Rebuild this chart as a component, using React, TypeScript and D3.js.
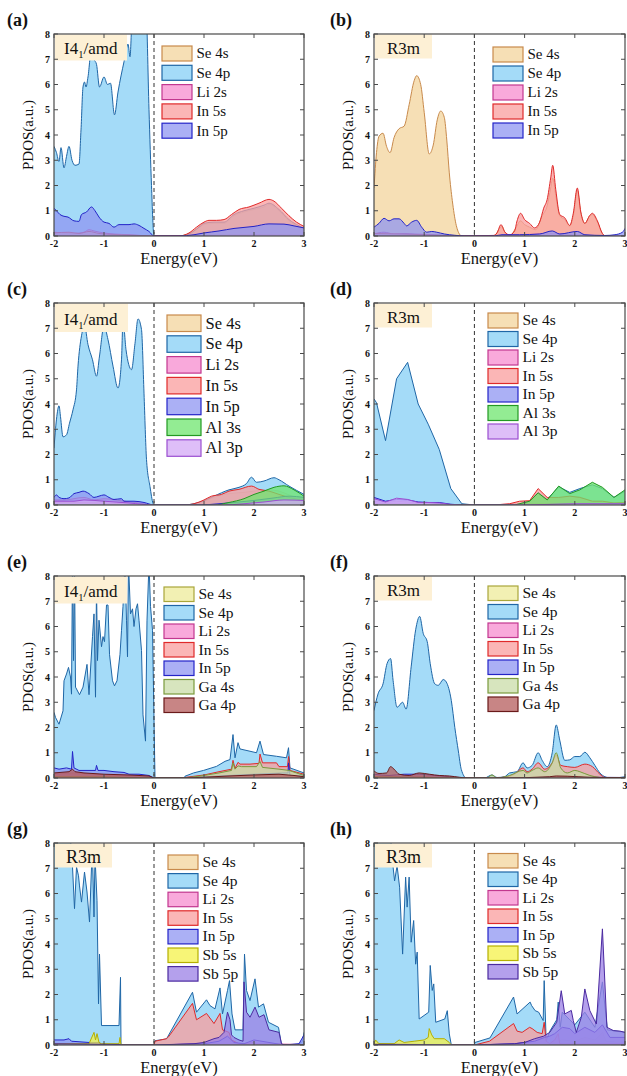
import React from 'react';
import * as d3 from 'd3';

type Pt = [number, number];

const ENERGY_TICKS = [-2, -1, 0, 1, 2, 3];
const PDOS_TICKS = [0, 1, 2, 3, 4, 5, 6, 7, 8];

// ---------- (a) I41/amd ----------
const aSe4s: Pt[] = [[-2, 0.05], [-1.5, 0.05], [-1, 0.04], [-0.5, 0.03], [0, 0], [0.5, 0], [0.8, 0.2], [1.0, 0.45], [1.2, 0.5], [1.4, 0.5], [1.6, 0.8], [1.8, 0.95], [2.0, 1.05], [2.2, 1.15], [2.3, 1.25], [2.5, 1.0], [2.7, 0.6], [2.9, 0.35], [3, 0.25]];
const aSe4p: Pt[] = [[-2, 3.55], [-1.95, 3.3], [-1.9, 2.95], [-1.86, 3.5], [-1.8, 2.7], [-1.75, 3.15], [-1.7, 3.55], [-1.64, 3.0], [-1.58, 2.8], [-1.5, 2.85], [-1.46, 4.2], [-1.42, 5.9], [-1.39, 6.1], [-1.36, 5.9], [-1.32, 6.3], [-1.25, 7.4], [-1.2, 7.0], [-1.15, 6.8], [-1.09, 5.9], [-1.0, 6.3], [-0.93, 6.0], [-0.87, 6.05], [-0.79, 4.8], [-0.72, 5.7], [-0.6, 6.9], [-0.52, 7.6], [-0.48, 7.1], [-0.44, 8.5], [-0.3, 9.5], [-0.16, 9.0], [-0.1, 5.0], [-0.05, 2.0], [0, 0], [0.5, 0], [0.7, 0.08], [0.9, 0.35], [1.0, 0.5], [1.2, 0.55], [1.4, 0.55], [1.6, 0.85], [1.8, 1.0], [2.0, 1.1], [2.2, 1.22], [2.3, 1.3], [2.5, 1.05], [2.7, 0.65], [2.9, 0.4], [3.0, 0.3]];
const aLi2s: Pt[] = [[-2, 0.15], [-1.8, 0.12], [-1.6, 0.1], [-1.4, 0.15], [-1.3, 0.25], [-1.2, 0.2], [-1.0, 0.12], [-0.8, 0.08], [-0.5, 0.05], [0, 0], [1, 0.02], [2, 0.05], [3, 0.03]];
const aIn5s: Pt[] = [[-2, 0.12], [-1.7, 0.15], [-1.5, 0.1], [-1.3, 0.18], [-1.1, 0.1], [-0.8, 0.06], [-0.4, 0.03], [0, 0], [0.5, 0], [0.7, 0.12], [0.85, 0.35], [1.0, 0.55], [1.1, 0.62], [1.25, 0.62], [1.4, 0.65], [1.55, 0.85], [1.7, 1.05], [1.9, 1.15], [2.1, 1.3], [2.3, 1.45], [2.4, 1.38], [2.55, 1.1], [2.7, 0.8], [2.85, 0.55], [3.0, 0.38]];
const aIn5p: Pt[] = [[-2, 1.1], [-1.95, 1.0], [-1.88, 0.85], [-1.8, 0.78], [-1.72, 0.75], [-1.6, 0.6], [-1.5, 0.58], [-1.45, 0.85], [-1.35, 0.95], [-1.25, 1.15], [-1.18, 1.0], [-1.1, 0.75], [-1.0, 0.55], [-0.9, 0.5], [-0.8, 0.35], [-0.7, 0.45], [-0.5, 0.45], [-0.4, 0.48], [-0.3, 0.42], [-0.2, 0.3], [-0.1, 0.18], [0, 0], [0.5, 0], [0.8, 0.05], [1.0, 0.12], [1.3, 0.2], [1.6, 0.3], [2.0, 0.38], [2.3, 0.48], [2.6, 0.47], [2.8, 0.4], [3.0, 0.32]];

// ---------- (b) R3m ----------
const bSe4s: Pt[] = [[-2, 1.9], [-1.95, 3.3], [-1.9, 3.95], [-1.82, 4.07], [-1.75, 3.55], [-1.68, 3.3], [-1.6, 3.9], [-1.5, 4.25], [-1.4, 4.35], [-1.3, 5.2], [-1.2, 6.15], [-1.15, 6.35], [-1.07, 6.0], [-1.0, 4.9], [-0.9, 3.25], [-0.82, 3.6], [-0.74, 4.6], [-0.67, 4.95], [-0.6, 4.7], [-0.55, 3.8], [-0.5, 2.5], [-0.44, 1.4], [-0.37, 0.5], [-0.3, 0.08], [-0.25, 0], [0.4, 0], [0.5, 0.3], [0.55, 0.38], [0.62, 0.1], [0.72, 0.04], [0.82, 0.3], [0.92, 0.6], [1.0, 0.45], [1.1, 0.35], [1.22, 0.25], [1.35, 0.8], [1.45, 1.2], [1.52, 1.9], [1.56, 2.3], [1.62, 1.6], [1.7, 0.8], [1.8, 0.65], [1.9, 0.4], [1.97, 0.8], [2.05, 1.8], [2.12, 0.9], [2.2, 0.5], [2.3, 0.8], [2.35, 0.85], [2.45, 0.55], [2.55, 0.08], [2.6, 0], [3, 0]];
const bSe4p: Pt[] = [[-2, 0.05], [-1, 0.05], [-0.3, 0], [3, 0]];
const bLi2s: Pt[] = [[-2, 0.08], [-1.8, 0.15], [-1.6, 0.08], [-1.4, 0.1], [-1.2, 0.08], [-0.8, 0.05], [-0.3, 0], [0.5, 0.03], [0.9, 0.05], [1.5, 0.1], [2.0, 0.05], [2.6, 0], [3, 0]];
const bIn5s: Pt[] = [[-2, 0.1], [-1.5, 0.08], [-1, 0.05], [-0.3, 0], [0.35, 0], [0.45, 0.12], [0.53, 0.45], [0.6, 0.18], [0.7, 0.04], [0.8, 0.2], [0.85, 0.6], [0.92, 0.9], [1.0, 0.65], [1.1, 0.5], [1.2, 0.32], [1.3, 0.55], [1.38, 1.1], [1.45, 1.45], [1.52, 2.3], [1.56, 2.8], [1.62, 1.85], [1.7, 0.85], [1.8, 0.72], [1.9, 0.42], [1.97, 0.9], [2.05, 1.9], [2.12, 0.95], [2.2, 0.5], [2.3, 0.82], [2.35, 0.9], [2.45, 0.6], [2.55, 0.1], [2.62, 0], [3, 0]];
const bIn5p: Pt[] = [[-2, 0.35], [-1.9, 0.5], [-1.8, 0.7], [-1.7, 0.6], [-1.6, 0.68], [-1.5, 0.68], [-1.4, 0.5], [-1.35, 0.4], [-1.25, 0.55], [-1.15, 0.62], [-1.05, 0.35], [-0.95, 0.15], [-0.85, 0.18], [-0.75, 0.15], [-0.6, 0.08], [-0.4, 0.03], [-0.2, 0], [0.4, 0], [0.55, 0.05], [0.9, 0.05], [1.3, 0.08], [1.55, 0.2], [1.7, 0.08], [2.05, 0.18], [2.2, 0.05], [2.6, 0.02], [2.8, 0.05], [2.95, 0.15], [3.0, 0.3]];

// ---------- (c) I41/amd ----------
const cSe4s: Pt[] = [[-2, 0.05], [-1, 0.05], [0, 0], [0.8, 0], [1.0, 0.15], [1.2, 0.3], [1.5, 0.45], [1.8, 0.5], [2.0, 0.55], [2.3, 0.6], [2.5, 0.55], [2.7, 0.4], [3.0, 0.2]];
const cSe4p: Pt[] = [[-2, 2.25], [-1.95, 3.4], [-1.9, 3.93], [-1.87, 3.5], [-1.82, 2.7], [-1.75, 2.78], [-1.69, 3.24], [-1.62, 3.77], [-1.55, 4.56], [-1.52, 5.5], [-1.45, 6.7], [-1.39, 7.1], [-1.32, 6.35], [-1.23, 5.75], [-1.15, 5.1], [-1.09, 5.9], [-1.0, 7.08], [-0.92, 6.55], [-0.82, 5.5], [-0.72, 4.63], [-0.65, 5.75], [-0.62, 7.3], [-0.56, 6.15], [-0.45, 5.36], [-0.38, 6.4], [-0.32, 7.37], [-0.25, 6.95], [-0.2, 4.43], [-0.15, 1.8], [-0.08, 0.73], [-0.02, 0.07], [0, 0], [0.6, 0], [0.8, 0.05], [1.0, 0.17], [1.2, 0.35], [1.5, 0.6], [1.7, 0.7], [1.85, 0.85], [1.95, 1.1], [2.05, 0.9], [2.2, 0.95], [2.4, 1.08], [2.5, 1.0], [2.7, 0.75], [2.85, 0.58], [3.0, 0.42]];
const cLi2s: Pt[] = [[-2, 0.2], [-1.8, 0.2], [-1.4, 0.3], [-1.2, 0.2], [-1.0, 0.25], [-0.6, 0.15], [-0.3, 0.08], [0, 0], [1.5, 0.02], [2.5, 0.08], [3, 0.1]];
const cIn5s: Pt[] = [[-2, 0.1], [-1, 0.08], [0, 0], [0.6, 0], [0.8, 0.05], [1.0, 0.2], [1.15, 0.35], [1.35, 0.42], [1.5, 0.55], [1.7, 0.62], [1.95, 0.75], [2.1, 0.62], [2.3, 0.55], [2.5, 0.42], [2.7, 0.3], [3.0, 0.18]];
const cIn5p: Pt[] = [[-2, 0.3], [-1.95, 0.4], [-1.9, 0.3], [-1.8, 0.25], [-1.7, 0.28], [-1.6, 0.45], [-1.5, 0.5], [-1.42, 0.55], [-1.3, 0.45], [-1.2, 0.3], [-1.1, 0.35], [-1.0, 0.4], [-0.9, 0.3], [-0.8, 0.22], [-0.65, 0.25], [-0.6, 0.15], [-0.4, 0.15], [-0.2, 0.1], [0, 0], [0.9, 0], [1.3, 0.05], [1.6, 0.1], [2.0, 0.18], [2.4, 0.28], [2.7, 0.35], [3.0, 0.3]];
const cAl3s: Pt[] = [[-2, 0.02], [0, 0], [1.2, 0], [1.5, 0.1], [1.8, 0.25], [2.0, 0.42], [2.2, 0.55], [2.4, 0.7], [2.6, 0.76], [2.8, 0.6], [3.0, 0.35]];
const cAl3p: Pt[] = [[-2, 0.15], [-1.6, 0.15], [-1.4, 0.2], [-1, 0.15], [-0.5, 0.08], [0, 0], [1.4, 0], [1.8, 0.05], [2.2, 0.12], [2.6, 0.2], [3.0, 0.18]];

// ---------- (d) R3m ----------
const dSe4s: Pt[] = [[-2, 0.05], [-1, 0.03], [0, 0], [0.8, 0], [1.1, 0.12], [1.27, 0.4], [1.45, 0.22], [1.68, 0.25], [1.9, 0.35], [2.1, 0.32], [2.35, 0.15], [2.55, 0.15], [2.78, 0.08], [3.0, 0.1]];
const dSe4p: Pt[] = [[-2, 4.2], [-1.95, 4.05], [-1.77, 2.55], [-1.55, 5.0], [-1.33, 5.65], [-1.12, 4.0], [-0.92, 3.2], [-0.7, 2.2], [-0.47, 0.65], [-0.25, 0.05], [0, 0], [0.8, 0], [1.1, 0.15], [1.27, 0.5], [1.45, 0.22], [1.68, 0.72], [1.9, 0.5], [2.1, 0.65], [2.35, 0.8], [2.55, 0.65], [2.78, 0.3], [3.0, 0.55]];
const dLi2s: Pt[] = [[-2, 0.15], [-1.77, 0.1], [-1.55, 0.15], [-1.1, 0.08], [-0.5, 0.02], [0, 0], [1.27, 0.05], [2.35, 0.05], [3.0, 0.05]];
const dIn5s: Pt[] = [[-2, 0.05], [-1, 0.03], [0, 0], [0.4, 0], [0.7, 0.05], [0.9, 0.15], [1.1, 0.17], [1.27, 0.65], [1.45, 0.3], [1.68, 0.3], [1.9, 0.35], [2.1, 0.3], [2.35, 0.15], [2.55, 0.15], [2.78, 0.08], [3.0, 0.1]];
const dIn5p: Pt[] = [[-2, 0.3], [-1.77, 0.15], [-1.55, 0.22], [-1.33, 0.2], [-1.12, 0.12], [-0.92, 0.1], [-0.7, 0.1], [-0.47, 0.03], [-0.25, 0], [1.0, 0], [1.5, 0.02], [2.35, 0.05], [3.0, 0.05]];
const dAl3s: Pt[] = [[-2, 0.02], [0, 0], [0.8, 0], [1.1, 0.15], [1.27, 0.48], [1.45, 0.2], [1.68, 0.75], [1.9, 0.45], [2.1, 0.6], [2.35, 0.9], [2.55, 0.7], [2.78, 0.3], [3.0, 0.6]];
const dAl3p: Pt[] = [[-2, 0.25], [-1.77, 0.12], [-1.55, 0.27], [-1.33, 0.22], [-1.12, 0.1], [-0.92, 0.1], [-0.7, 0.08], [-0.47, 0.02], [-0.25, 0], [1.0, 0], [2.0, 0.05], [3.0, 0.05]];

// ---------- (e) I41/amd ----------
const eSe4s: Pt[] = [[-2, 0.1], [-1, 0.08], [0, 0], [0.62, 0], [1.0, 0.08], [1.3, 0.18], [1.55, 0.25], [1.58, 0.5], [1.62, 0.3], [1.7, 0.4], [2.0, 0.4], [2.12, 0.55], [2.17, 0.35], [2.5, 0.3], [2.7, 0.25], [3.0, 0.08]];
const eSe4p: Pt[] = [[-2, 2.6], [-1.97, 2.4], [-1.9, 2.13], [-1.82, 2.66], [-1.8, 3.85], [-1.75, 4.12], [-1.71, 4.38], [-1.67, 4.0], [-1.65, 3.32], [-1.63, 8.5], [-1.61, 4.65], [-1.59, 8.5], [-1.57, 3.6], [-1.49, 3.3], [-1.42, 3.6], [-1.34, 4.5], [-1.3, 3.3], [-1.23, 5.6], [-1.2, 6.5], [-1.17, 3.2], [-1.15, 7.6], [-1.13, 4.65], [-1.1, 6.25], [-1.05, 5.2], [-1.02, 5.6], [-0.99, 5.4], [-0.95, 6.85], [-0.92, 6.85], [-0.89, 4.9], [-0.83, 3.85], [-0.79, 3.65], [-0.74, 3.85], [-0.68, 4.9], [-0.65, 5.85], [-0.62, 6.8], [-0.58, 8.5], [-0.55, 6.25], [-0.53, 4.8], [-0.51, 8.5], [-0.47, 6.5], [-0.43, 6.7], [-0.4, 6.0], [-0.36, 6.7], [-0.33, 6.9], [-0.3, 6.25], [-0.25, 5.05], [-0.22, 2.5], [-0.17, 1.46], [-0.14, 6.25], [-0.1, 8.5], [-0.07, 6.8], [-0.03, 5.85], [0, 2.3], [0.02, 0], [0.6, 0], [0.62, 0.07], [0.79, 0.2], [0.99, 0.3], [1.25, 0.46], [1.42, 0.66], [1.52, 0.73], [1.58, 1.72], [1.62, 0.8], [1.68, 1.4], [1.72, 1.15], [1.92, 1.06], [2.05, 1.0], [2.12, 1.46], [2.19, 0.93], [2.45, 0.86], [2.65, 0.8], [2.69, 1.2], [2.72, 0.4], [3.0, 0.2]];
const eLi2s: Pt[] = [[-2, 0.1], [-1.6, 0.15], [-1.2, 0.1], [-0.6, 0.08], [0, 0], [0.62, 0], [1.5, 0.05], [2.5, 0.08], [3, 0.03]];
const eIn5s: Pt[] = [[-2, 0.15], [-1.6, 0.2], [-1, 0.12], [-0.5, 0.08], [0, 0], [0.62, 0], [0.65, 0.03], [1.0, 0.12], [1.3, 0.25], [1.55, 0.35], [1.58, 0.7], [1.62, 0.38], [1.68, 0.62], [1.72, 0.55], [1.92, 0.55], [2.1, 0.58], [2.12, 0.95], [2.17, 0.6], [2.45, 0.6], [2.5, 0.45], [2.67, 0.45], [2.69, 0.85], [2.72, 0.3], [3.0, 0.15]];
const eIn5p: Pt[] = [[-2, 0.4], [-1.9, 0.35], [-1.75, 0.4], [-1.65, 0.35], [-1.63, 1.05], [-1.6, 0.4], [-1.5, 0.3], [-1.3, 0.3], [-1.17, 0.3], [-1.15, 0.5], [-1.12, 0.3], [-1.0, 0.3], [-0.8, 0.25], [-0.6, 0.22], [-0.5, 0.15], [-0.3, 0.15], [-0.1, 0.1], [0, 0], [0.62, 0], [1.0, 0.05], [1.5, 0.1], [2.0, 0.15], [2.6, 0.2], [2.68, 0.2], [2.69, 0.6], [2.72, 0.1], [3.0, 0.08]];
const eGa4s: Pt[] = [[-2, 0.05], [-1, 0.05], [0, 0], [0.62, 0], [1.0, 0.1], [1.3, 0.2], [1.55, 0.3], [1.58, 0.6], [1.62, 0.35], [1.68, 0.48], [1.75, 0.45], [2.05, 0.45], [2.12, 0.65], [2.17, 0.42], [2.5, 0.35], [2.7, 0.3], [3.0, 0.1]];
const eGa4p: Pt[] = [[-2, 0.2], [-1.7, 0.25], [-1.63, 0.35], [-1.58, 0.25], [-1.4, 0.2], [-1.0, 0.15], [-0.5, 0.12], [-0.1, 0.08], [0, 0], [0.62, 0], [1.0, 0.03], [1.5, 0.08], [2.0, 0.12], [2.5, 0.15], [2.8, 0.1], [3.0, 0.05]];

// ---------- (f) R3m ----------
const fSe4s: Pt[] = [[-2, 0.05], [-1, 0.03], [-0.15, 0], [0.25, 0], [0.35, 0.1], [0.45, 0], [0.7, 0.08], [0.97, 0.27], [1.05, 0.18], [1.15, 0.25], [1.27, 0.35], [1.4, 0.2], [1.55, 0.55], [1.63, 0.92], [1.72, 0.35], [1.85, 0.18], [2.0, 0.27], [2.1, 0.22], [2.3, 0.08], [2.5, 0.02], [2.6, 0], [3, 0]];
const fSe4p: Pt[] = [[-2, 2.67], [-1.92, 3.33], [-1.82, 3.73], [-1.74, 4.53], [-1.67, 4.73], [-1.62, 3.87], [-1.54, 2.8], [-1.43, 3.0], [-1.36, 2.73], [-1.26, 4.4], [-1.17, 5.87], [-1.09, 6.4], [-1.02, 5.73], [-0.94, 5.4], [-0.88, 4.53], [-0.79, 3.73], [-0.72, 3.67], [-0.62, 3.9], [-0.56, 3.8], [-0.46, 3.07], [-0.39, 2.0], [-0.32, 1.07], [-0.26, 0.33], [-0.16, 0], [0.2, 0], [0.35, 0.12], [0.45, 0.02], [0.6, 0.05], [0.7, 0.2], [0.85, 0.25], [0.97, 0.6], [1.05, 0.4], [1.15, 0.5], [1.27, 1.0], [1.35, 0.7], [1.45, 0.45], [1.55, 1.0], [1.63, 2.1], [1.7, 1.5], [1.8, 0.7], [1.9, 0.72], [2.0, 0.85], [2.1, 0.85], [2.2, 1.02], [2.3, 0.8], [2.4, 0.5], [2.5, 0.2], [2.6, 0.05], [2.7, 0], [2.9, 0.02], [3.0, 0.05]];
const fLi2s: Pt[] = [[-2, 0.05], [-1, 0.05], [-0.2, 0], [2.7, 0], [3, 0.02]];
const fIn5s: Pt[] = [[-2, 0.03], [-0.2, 0], [0.25, 0], [0.6, 0.03], [0.8, 0.15], [0.97, 0.4], [1.05, 0.25], [1.15, 0.35], [1.27, 0.6], [1.4, 0.35], [1.55, 0.6], [1.63, 0.9], [1.72, 0.5], [1.85, 0.45], [2.0, 0.42], [2.2, 0.55], [2.35, 0.45], [2.5, 0.15], [2.6, 0.02], [2.7, 0], [3, 0]];
const fIn5p: Pt[] = [[-2, 0.15], [-1.7, 0.1], [-1.4, 0.15], [-1.1, 0.15], [-0.8, 0.1], [-0.5, 0.05], [-0.2, 0], [1.0, 0], [1.6, 0.05], [2.2, 0.03], [3.0, 0.02]];
const fGa4s: Pt[] = [[-2, 0.05], [-1, 0.03], [-0.2, 0], [0.25, 0], [0.35, 0.12], [0.45, 0], [0.7, 0.1], [0.97, 0.3], [1.05, 0.2], [1.15, 0.3], [1.27, 0.4], [1.4, 0.25], [1.55, 0.6], [1.63, 1.0], [1.72, 0.4], [1.85, 0.2], [2.0, 0.3], [2.1, 0.25], [2.3, 0.1], [2.5, 0.02], [2.6, 0], [3, 0]];
const fGa4p: Pt[] = [[-2, 0.28], [-1.9, 0.18], [-1.75, 0.2], [-1.67, 0.45], [-1.6, 0.35], [-1.5, 0.15], [-1.3, 0.1], [-1.1, 0.2], [-0.9, 0.15], [-0.7, 0.1], [-0.5, 0.08], [-0.3, 0.03], [-0.15, 0], [0.5, 0], [1.5, 0.05], [1.63, 0.08], [2.5, 0.02], [3.0, 0.02]];

// ---------- (g) R3m ----------
const gSe4s: Pt[] = [[-2, 0.05], [-0.67, 0.02], [-0.65, 0], [0, 0], [1.5, 0.05], [3, 0]];
const gSe4p: Pt[] = [[-2, 9], [-1.7, 9], [-1.65, 7.6], [-1.63, 7.05], [-1.59, 5.4], [-1.55, 7.05], [-1.51, 6.7], [-1.49, 6.3], [-1.45, 5.66], [-1.39, 6.85], [-1.34, 6.06], [-1.29, 4.87], [-1.25, 7.05], [-1.23, 7.5], [-1.2, 5.07], [-1.18, 7.5], [-1.14, 5.73], [-1.11, 1.63], [-1.09, 3.6], [-1.05, 0.77], [-0.7, 0.77], [-0.67, 2.68], [-0.66, 0], [0, 0], [0.02, 0.17], [0.25, 0.24], [0.77, 2.09], [0.85, 1.3], [1.05, 1.79], [1.12, 1.56], [1.22, 1.43], [1.32, 2.26], [1.37, 1.23], [1.47, 2.16], [1.51, 2.55], [1.56, 1.23], [1.62, 0.6], [1.78, 0.6], [1.81, 3.6], [1.85, 2.16], [1.92, 1.76], [2.02, 2.62], [2.09, 1.5], [2.19, 1.63], [2.29, 0.9], [2.49, 0.7], [2.55, 0], [2.9, 0.03], [2.97, 0.15], [3.0, 0.5]];
const gLi2s: Pt[] = [[-2, 0.05], [-0.67, 0.02], [-0.65, 0], [0, 0], [1.0, 0.05], [2.0, 0.05], [3, 0.02]];
const gIn5s: Pt[] = [[-2, 0.05], [-0.65, 0], [0, 0], [0.02, 0.15], [0.25, 0.25], [0.3, 0.35], [0.77, 1.65], [0.85, 1.0], [1.05, 1.25], [1.2, 0.85], [1.32, 1.25], [1.37, 0.6], [1.5, 0.5], [1.55, 0.2], [1.6, 0.15], [1.7, 0.05], [1.8, 0.05], [2.0, 0.1], [2.05, 0.02], [2.6, 0], [3.0, 0]];
const gIn5p: Pt[] = [[-2, 0.2], [-1.8, 0.2], [-1.7, 0.25], [-1.65, 0.15], [-1.3, 0.1], [-1.1, 0.1], [-1.05, 0.02], [-0.65, 0], [0, 0], [1.0, 0.05], [1.3, 0.15], [1.47, 0.35], [1.6, 0.1], [1.8, 0.05], [2.0, 0.2], [2.3, 0.1], [2.6, 0], [2.9, 0.05], [3.0, 0.4]];
const gSb5s: Pt[] = [[-2, 0.05], [-1.3, 0.05], [-1.2, 0.5], [-1.17, 0.2], [-1.14, 0.45], [-1.1, 0.1], [-1.05, 0.05], [-0.7, 0.05], [-0.68, 0.3], [-0.66, 0], [0, 0], [3, 0]];
const gSb5p: Pt[] = [[-2, 0.05], [-0.67, 0.02], [-0.65, 0], [0, 0], [0.8, 0.05], [1.0, 0.1], [1.2, 0.25], [1.3, 0.3], [1.4, 0.5], [1.47, 1.3], [1.52, 1.0], [1.55, 0.4], [1.6, 0.3], [1.7, 0.2], [1.78, 0.15], [1.8, 2.5], [1.85, 1.3], [1.92, 1.1], [2.02, 1.5], [2.1, 1.1], [2.2, 1.2], [2.3, 0.6], [2.5, 0.5], [2.55, 0.05], [2.6, 0], [3, 0]];

// ---------- (h) R3m ----------
const hSe4s: Pt[] = [[-2, 0.02], [-0.46, 0], [0, 0], [1.5, 0.05], [1.75, 0.2], [2.0, 0.15], [2.2, 0.3], [2.4, 0.2], [2.55, 0.5], [2.62, 0.15], [3.0, 0.1]];
const hSe4p: Pt[] = [[-2, 9], [-1.7, 9], [-1.64, 7.5], [-1.62, 7.05], [-1.59, 6.5], [-1.54, 7.1], [-1.49, 6.25], [-1.43, 3.6], [-1.37, 6.65], [-1.34, 5.46], [-1.3, 6.65], [-1.26, 4.07], [-1.21, 4.93], [-1.17, 3.2], [-1.14, 3.68], [-1.1, 1.03], [-0.91, 1.3], [-0.88, 3.15], [-0.84, 2.16], [-0.81, 2.42], [-0.77, 0.9], [-0.59, 1.03], [-0.54, 1.36], [-0.5, 0.44], [-0.46, 0], [0, 0], [0.01, 0.1], [0.31, 0.28], [0.78, 1.9], [0.85, 1.23], [1.11, 1.7], [1.14, 1.56], [1.21, 1.36], [1.28, 1.3], [1.37, 0.97], [1.39, 2.55], [1.43, 0.17], [1.51, 0.57], [1.64, 1.0], [1.67, 1.7], [1.71, 0.7], [1.75, 1.3], [1.9, 1.0], [2.0, 0.8], [2.2, 1.3], [2.4, 0.7], [2.55, 2.5], [2.65, 0.6], [3.0, 0.5]];
const hLi2s: Pt[] = [[-2, 0.05], [-0.46, 0], [0, 0], [1.0, 0.03], [2.0, 0.05], [3, 0.05]];
const hIn5s: Pt[] = [[-2, 0.03], [-0.46, 0], [0, 0], [0.3, 0.15], [0.78, 0.85], [0.85, 0.55], [0.95, 0.5], [1.1, 0.7], [1.15, 0.65], [1.25, 0.5], [1.35, 0.45], [1.39, 0.9], [1.43, 0.15], [1.5, 0.05], [1.6, 0.2], [1.67, 0.45], [1.7, 0.05], [1.8, 0], [3.0, 0]];
const hIn5p: Pt[] = [[-2, 0.05], [-0.46, 0], [0, 0], [0.8, 0.05], [1.2, 0.15], [1.4, 0.3], [1.5, 0.35], [1.6, 0.45], [1.75, 0.7], [1.9, 0.65], [2.0, 0.45], [2.2, 0.7], [2.4, 0.5], [2.55, 0.8], [2.7, 0.3], [3.0, 0.3]];
const hSb5s: Pt[] = [[-2, 0.05], [-1.97, 0.2], [-1.9, 0.05], [-1.6, 0.05], [-1.5, 0.2], [-1.4, 0.1], [-1.2, 0.15], [-1.0, 0.2], [-0.92, 0.3], [-0.9, 0.65], [-0.85, 0.4], [-0.8, 0.25], [-0.6, 0.25], [-0.5, 0.1], [-0.46, 0], [3, 0]];
const hSb5p: Pt[] = [[-2, 0.02], [-0.46, 0], [0, 0], [0.8, 0.05], [1.0, 0.1], [1.2, 0.25], [1.38, 0.35], [1.5, 0.5], [1.64, 0.9], [1.73, 2.15], [1.8, 1.23], [1.93, 1.37], [1.97, 0.97], [2.03, 0.5], [2.13, 1.1], [2.2, 2.22], [2.3, 1.36], [2.43, 0.83], [2.55, 4.6], [2.64, 0.7], [2.77, 0.57], [2.9, 0.55], [3.0, 0.5]];

// orbital colours
const ORBITAL: Record<string, { fill: string; stroke: string }> = {
  'Se 4s': { fill: '#f3d49c', stroke: '#c88a4c' },
  'Se 4s y': { fill: '#eeeb9a', stroke: '#a9a63a' },
  'Se 4p': { fill: '#86cff6', stroke: '#1f66a6' },
  'Li 2s': { fill: '#f78ccf', stroke: '#c2378f' },
  'In 5s': { fill: '#f99d9d', stroke: '#e02a2a' },
  'In 5p': { fill: '#8f95f2', stroke: '#2323c8' },
  'Al 3s': { fill: '#6fe66f', stroke: '#229922' },
  'Al 3p': { fill: '#d3a8f5', stroke: '#9b4fd1' },
  'Ga 4s': { fill: '#c9dca8', stroke: '#7a9a3c' },
  'Ga 4p': { fill: '#b55c5c', stroke: '#6a1a1a' },
  'Sb 5s': { fill: '#f4f24a', stroke: '#b5b000' },
  'Sb 5p': { fill: '#9b80e6', stroke: '#4b2aa0' },
};

type Series = { name: string; key: string; data: Pt[] };
type Legend = { x: number; y: number; step: number; bw: number; bh: number; fs: number };
type Panel = {
  tag: string; phase: 'I' | 'R'; col: number; row: number; smooth: boolean;
  legend: Legend; phaseBox: { w: number; h: number; fs: number; base: number }; series: Series[];
};

const s = (name: string, data: Pt[], key = name): Series => ({ name, key, data });

const PANELS: Panel[] = [
  { tag: '(a)', phase: 'I', col: 0, row: 0, smooth: true,
    legend: { x: 162, y: 46, step: 19.3, bw: 30, bh: 15, fs: 15 },
    phaseBox: { w: 72, h: 26, fs: 17, base: 20 },
    series: [s('Se 4s', aSe4s), s('Se 4p', aSe4p), s('Li 2s', aLi2s), s('In 5s', aIn5s), s('In 5p', aIn5p)] },
  { tag: '(b)', phase: 'R', col: 1, row: 0, smooth: true,
    legend: { x: 493, y: 47, step: 19, bw: 30, bh: 15, fs: 15 },
    phaseBox: { w: 57, h: 24, fs: 17, base: 20 },
    series: [s('Se 4s', bSe4s), s('Se 4p', bSe4p), s('Li 2s', bLi2s), s('In 5s', bIn5s), s('In 5p', bIn5p)] },
  { tag: '(c)', phase: 'I', col: 0, row: 1, smooth: true,
    legend: { x: 167, y: 315, step: 20.8, bw: 34, bh: 16.5, fs: 16.5 },
    phaseBox: { w: 73, h: 28.5, fs: 17, base: 22 },
    series: [s('Se 4s', cSe4s), s('Se 4p', cSe4p), s('Li 2s', cLi2s), s('In 5s', cIn5s), s('In 5p', cIn5p), s('Al 3s', cAl3s), s('Al 3p', cAl3p)] },
  { tag: '(d)', phase: 'R', col: 1, row: 1, smooth: false,
    legend: { x: 488, y: 313, step: 18.5, bw: 30, bh: 15, fs: 15.5 },
    phaseBox: { w: 57, h: 24, fs: 17, base: 20 },
    series: [s('Se 4s', dSe4s), s('Se 4p', dSe4p), s('Li 2s', dLi2s), s('In 5s', dIn5s), s('In 5p', dIn5p), s('Al 3s', dAl3s), s('Al 3p', dAl3p)] },
  { tag: '(e)', phase: 'I', col: 0, row: 2, smooth: false,
    legend: { x: 164, y: 587, step: 18.5, bw: 30, bh: 14.5, fs: 15.5 },
    phaseBox: { w: 72, h: 27, fs: 17, base: 21 },
    series: [s('Se 4s', eSe4s, 'Se 4s y'), s('Se 4p', eSe4p), s('Li 2s', eLi2s), s('In 5s', eIn5s), s('In 5p', eIn5p), s('Ga 4s', eGa4s), s('Ga 4p', eGa4p)] },
  { tag: '(f)', phase: 'R', col: 1, row: 2, smooth: true,
    legend: { x: 488, y: 586, step: 18.5, bw: 30, bh: 14.5, fs: 15.5 },
    phaseBox: { w: 57, h: 24, fs: 17, base: 20 },
    series: [s('Se 4s', fSe4s, 'Se 4s y'), s('Se 4p', fSe4p), s('Li 2s', fLi2s), s('In 5s', fIn5s), s('In 5p', fIn5p), s('Ga 4s', fGa4s), s('Ga 4p', fGa4p)] },
  { tag: '(g)', phase: 'R', col: 0, row: 3, smooth: false,
    legend: { x: 168, y: 855, step: 18.6, bw: 30, bh: 14.5, fs: 15.5 },
    phaseBox: { w: 57, h: 24, fs: 18, base: 20 },
    series: [s('Se 4s', gSe4s), s('Se 4p', gSe4p), s('Li 2s', gLi2s), s('In 5s', gIn5s), s('In 5p', gIn5p), s('Sb 5s', gSb5s), s('Sb 5p', gSb5p)] },
  { tag: '(h)', phase: 'R', col: 1, row: 3, smooth: false,
    legend: { x: 488, y: 853.5, step: 18.5, bw: 30, bh: 14.5, fs: 15.5 },
    phaseBox: { w: 57, h: 24, fs: 18, base: 20 },
    series: [s('Se 4s', hSe4s), s('Se 4p', hSe4p), s('Li 2s', hLi2s), s('In 5s', hIn5s), s('In 5p', hIn5p), s('Sb 5s', hSb5s), s('Sb 5p', hSb5p)] },
];

const W = 627;
const H = 1076;
const COL_X = [54, 374];
const COL_W = [250, 251];
const ROW_Y = [34, 303, 576, 843];
const PLOT_H = 202;
const SERIF = '"Liberation Serif", "Times New Roman", serif';
const FILL_OPACITY = 0.75;

function PdosPanel({ p, idx }: { p: Panel; idx: number }) {
  const x0 = COL_X[p.col];
  const pw = COL_W[p.col];
  const y0 = ROW_Y[p.row];
  const x = d3.scaleLinear().domain([-2, 3]).range([x0, x0 + pw]);
  const y = d3.scaleLinear().domain([0, 8]).range([y0 + PLOT_H, y0]);
  const curve = p.smooth ? d3.curveMonotoneX : d3.curveLinear;
  const area = d3.area<Pt>().x(d => x(d[0])).y0(y(0)).y1(d => y(d[1])).curve(curve);
  const line = d3.line<Pt>().x(d => x(d[0])).y(d => y(d[1])).curve(curve);
  const clipId = `clip-${idx}`;
  const bottom = y0 + PLOT_H;
  const frame = '#4a4a4a';
  const L = p.legend;
  const pb = p.phaseBox;

  return (
    <g>
      <defs>
        <clipPath id={clipId}>
          <rect x={x0} y={y0} width={pw} height={PLOT_H} />
        </clipPath>
      </defs>
      <g clipPath={`url(#${clipId})`}>
        {p.series.map(se => {
          const c = ORBITAL[se.key];
          return (
            <g key={se.name}>
              <path d={area(se.data) ?? ''} fill={c.fill} fillOpacity={FILL_OPACITY} stroke="none" />
              <path d={line(se.data) ?? ''} fill="none" stroke={c.stroke} strokeWidth={1} strokeLinejoin="round" />
            </g>
          );
        })}
      </g>
      {/* Fermi level */}
      <line x1={x(0)} x2={x(0)} y1={y0} y2={bottom} stroke="#333" strokeWidth={1} strokeDasharray="4,3" />
      {/* space group tag */}
      <rect x={x0 + 1} y={y0 + 0.5} width={pb.w} height={pb.h} fill="#fdf0d5" />
      {p.phase === 'I' ? (
        <text x={x0 + 10} y={y0 + pb.base} fontFamily={SERIF} fontSize={pb.fs} fill="#111">
          I4<tspan dy={4} fontSize={pb.fs * 0.62}>1</tspan><tspan dy={-4}>/amd</tspan>
        </text>
      ) : (
        <text x={x0 + 1 + pb.w / 2} y={y0 + pb.base} fontFamily={SERIF} fontSize={pb.fs} fill="#111" textAnchor="middle">R3m</text>
      )}
      {/* legend */}
      {p.series.map((se, i) => {
        const c = ORBITAL[se.key];
        const ry = L.y + i * L.step;
        return (
          <g key={`lg-${se.name}`}>
            <rect x={L.x} y={ry} width={L.bw} height={L.bh} fill={c.fill} fillOpacity={FILL_OPACITY} stroke={c.stroke} strokeWidth={1.2} />
            <text x={L.x + L.bw + 4.5} y={ry + L.bh * 0.83} fontFamily={SERIF} fontSize={L.fs} fill="#111">{se.name}</text>
          </g>
        );
      })}
      {/* frame */}
      <rect x={x0} y={y0} width={pw} height={PLOT_H} fill="none" stroke={frame} strokeWidth={1.2} />
      {/* ticks */}
      {ENERGY_TICKS.map(t => (
        <g key={`xt${t}`}>
          <line x1={x(t)} x2={x(t)} y1={bottom} y2={bottom - 4} stroke={frame} />
          <line x1={x(t)} x2={x(t)} y1={y0} y2={y0 + 4} stroke={frame} />
          <text x={x(t)} y={bottom + 11} textAnchor="middle" fontFamily={SERIF} fontWeight="bold" fontSize={10} fill="#111">{t}</text>
        </g>
      ))}
      {PDOS_TICKS.map(t => (
        <g key={`yt${t}`}>
          <line x1={x0} x2={x0 + 4} y1={y(t)} y2={y(t)} stroke={frame} />
          <line x1={x0 + pw} x2={x0 + pw - 4} y1={y(t)} y2={y(t)} stroke={frame} />
          <text x={x0 - 4} y={y(t) + 3.5} textAnchor="end" fontFamily={SERIF} fontWeight="bold" fontSize={10} fill="#111">{t}</text>
        </g>
      ))}
      {/* axis titles */}
      <text x={x0 + pw / 2} y={bottom + 28} textAnchor="middle" fontFamily={SERIF} fontSize={16.5} fill="#111">Energy(eV)</text>
      <text transform={`translate(${p.col === 0 ? 33 : 353},${y0 + PLOT_H / 2}) rotate(-90)`} textAnchor="middle" fontFamily={SERIF} fontSize={15} fill="#111">PDOS(a.u.)</text>
      {/* panel tag */}
      <text x={p.col === 0 ? 7 : 330} y={y0 - 8} fontFamily={SERIF} fontWeight="bold" fontSize={18} fill="#111">{p.tag}</text>
    </g>
  );
}

export default function App() {
  return (
    <svg width={W} height={H} viewBox={`0 0 ${W} ${H}`} style={{ position: 'absolute', left: 0, top: 0, background: '#fff' }}>
      <rect x={0} y={0} width={W} height={H} fill="#fff" />
      {PANELS.map((p, i) => <PdosPanel key={p.tag} p={p} idx={i} />)}
    </svg>
  );
}
